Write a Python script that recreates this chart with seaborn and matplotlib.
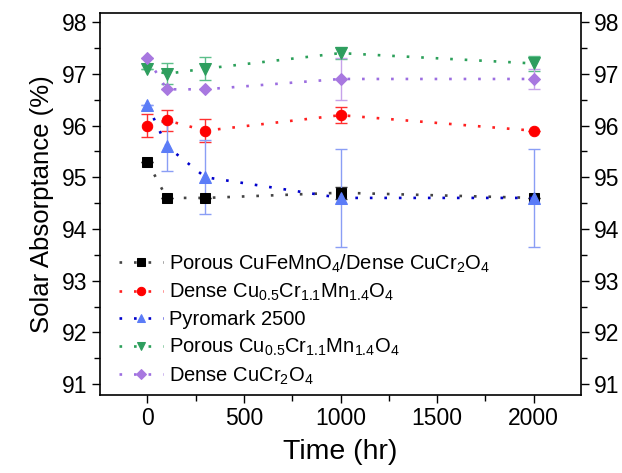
import numpy as np
import pandas as pd
import matplotlib
matplotlib.use("Agg")
import matplotlib.pyplot as plt
from matplotlib.ticker import MultipleLocator
import seaborn as sns

sns.set_style("ticks")
plt.rcParams['font.family'] = ['Liberation Sans', 'DejaVu Sans']
plt.rcParams['mathtext.fontset'] = 'custom'
plt.rcParams['mathtext.rm'] = 'Liberation Sans'
plt.rcParams['mathtext.it'] = 'Liberation Sans'
plt.rcParams['text.color'] = 'black'
plt.rcParams['axes.labelcolor'] = 'black'
plt.rcParams['xtick.color'] = 'black'
plt.rcParams['ytick.color'] = 'black'

# data
time_hr = [0, 100, 300, 1000, 2000]

porous_cufemno4 = [95.3, 94.6, 94.6, 94.7, 94.6]
porous_cufemno4_err = [0, 0, 0, 0.12, 0]

dense_cucrmn = [96.0, 96.1, 95.9, 96.2, 95.9]
dense_cucrmn_err = [0.23, 0.2, 0.22, 0.15, 0]

pyromark = [96.4, 95.6, 95.0, 94.6, 94.6]
pyromark_err = [0, 0.47, 0.72, 0.95, 0.95]

porous_cucrmn = [97.1, 97.0, 97.1, 97.4, 97.2]
porous_cucrmn_err = [0, 0.2, 0.22, 0.12, 0.15]

dense_cucr2o4 = [97.3, 96.7, 96.7, 96.9, 96.9]
dense_cucr2o4_err = [0, 0, 0, 0.4, 0.2]

labels = ['Porous CuFeMnO$_4$/Dense CuCr$_2$O$_4$',
          'Dense Cu$_{0.5}$Cr$_{1.1}$Mn$_{1.4}$O$_4$',
          'Pyromark 2500',
          'Porous Cu$_{0.5}$Cr$_{1.1}$Mn$_{1.4}$O$_4$',
          'Dense CuCr$_2$O$_4$']

# values, errors, marker, size, marker colour, line colour, errorbar colour
series = [
    (porous_cufemno4, porous_cufemno4_err, 's', 6.5, '#000000', '#444444', '#333333'),
    (dense_cucrmn, dense_cucrmn_err, 'o', 7.5, '#ff0000', '#ff2020', '#ff3030'),
    (pyromark, pyromark_err, '^', 8, '#5b7cf7', '#0000cc', '#8a9ef5'),
    (porous_cucrmn, porous_cucrmn_err, 'v', 8, '#2e9e5e', '#2ca05a', '#5cbf8a'),
    (dense_cucr2o4, dense_cucr2o4_err, 'D', 6.5, '#a878e0', '#9c6ee0', '#c6a2ea'),
]

fig, ax = plt.subplots(figsize=(6.22, 4.73), dpi=100)
fig.subplots_adjust(left=0.161, right=0.934, bottom=0.165, top=0.973)

for (vals, errs, mk, ms, mcol, lcol, ecol), lab in zip(series, labels):
    df = pd.DataFrame({'Time': time_hr, 'Abs': vals})
    ax.errorbar(time_hr, vals, yerr=errs, fmt='none', ecolor=ecol,
                elinewidth=1.0, capsize=4.5, capthick=1.0, zorder=2)
    sns.lineplot(data=df, x='Time', y='Abs', ax=ax, color=lcol,
                 linestyle=(0, (1, 4.5)), linewidth=1.9, marker=mk,
                 markersize=ms, markerfacecolor=mcol,
                 markeredgecolor=mcol, label=lab, zorder=3)

ax.set_xlim(-245, 2245)
ax.set_ylim(90.79, 98.18)
ax.xaxis.set_major_locator(MultipleLocator(500))
ax.xaxis.set_minor_locator(MultipleLocator(250))
ax.yaxis.set_major_locator(MultipleLocator(1))
ax.yaxis.set_minor_locator(MultipleLocator(0.5))
ax.tick_params(which='both', direction='out', top=False, right=True,
               labelright=True, labelsize=16.5, width=1.0, color='black',
               labelcolor='black')
ax.tick_params(which='major', length=6, pad=3)
ax.tick_params(which='minor', length=4)
for sp in ax.spines.values():
    sp.set_linewidth(1.2)
    sp.set_color('black')

ax.set_xlabel('Time (hr)', fontsize=20.5, labelpad=6)
ax.set_ylabel('Solar Absorptance (%)', fontsize=18.5, labelpad=6)

ax.legend(loc='lower left', bbox_to_anchor=(0.01, -0.015), frameon=False,
          fontsize=14.5, handlelength=2.2, handletextpad=0.3,
          labelspacing=0.36, borderaxespad=0.3, numpoints=1,
          markerscale=0.8)

fig.savefig('out.png', dpi=100)
